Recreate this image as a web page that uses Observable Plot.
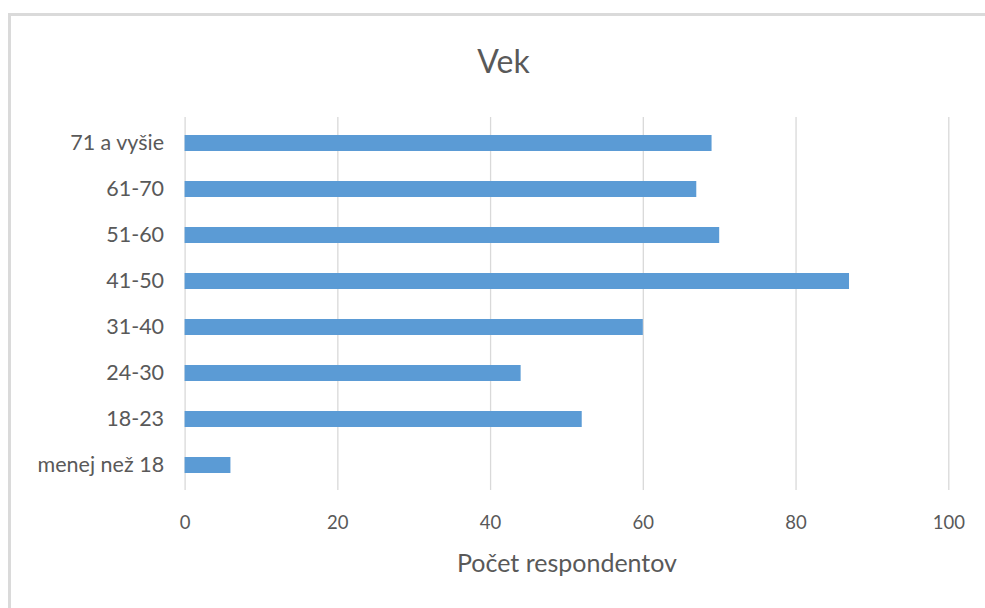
<!DOCTYPE html>
<html>
<head>
<meta charset="utf-8">
<script src="https://cdn.jsdelivr.net/npm/d3@7"></script>
<script src="https://cdn.jsdelivr.net/npm/@observablehq/plot@0.6"></script>
<style>
  html, body { margin: 0; padding: 0; background: #fff; }
  body { position: relative; width: 985px; height: 608px; overflow: hidden; font-family: Lato, "Open Sans", sans-serif; }
  #frame { position: absolute; left: 8px; top: 13px; width: 1100px; height: 700px;
           border-left: 3px solid #dadada; border-top: 3px solid #dadada; }
  #title { position: absolute; left: 0; top: 45px; width: 1007px; text-align: center;
           font-size: 32px; color: #595959; line-height: 1; }
  #chart { position: absolute; left: 0; top: 100px; }
</style>
</head>
<body>
<div id="frame"></div>
<div id="title"></div>
<div id="chart"></div>
<script>
// Age groups of respondents, top to bottom as listed on the chart
const titleText = "Vek";
const xLabel = "Počet respondentov";
const categories = ["71 a vyšie", "61-70", "51-60", "41-50", "31-40", "24-30", "18-23", "menej než 18"];
const counts = [69, 67, 70, 87, 60, 44, 52, 6];
const xTicks = [0, 20, 40, 60, 80, 100];

const rows = categories.map((c, i) => ({group: c, count: counts[i]}));

document.getElementById("title").textContent = titleText;

const textColor = "#595959";
const chart = Plot.plot({
  width: 985,
  height: 508,
  marginTop: 17,
  marginBottom: 118,
  marginLeft: 184.6,
  marginRight: 36.7,
  style: {fontFamily: "Lato, 'Open Sans', sans-serif", color: textColor, background: "transparent"},
  x: {domain: [0, 100]},
  y: {domain: categories, paddingInner: 0.66, paddingOuter: 0.33},
  marks: [
    Plot.ruleX(xTicks, {stroke: "#d9d9d9", strokeWidth: 1.3}),
    Plot.barX(rows, {x: "count", y: "group", fill: "#5b9bd5"}),
    Plot.axisY({tickSize: 0, tickPadding: 21, fontSize: 21.5, fill: textColor, label: null}),
    Plot.axisX({ticks: xTicks, tickSize: 0, tickPadding: 25, fontSize: 18.5, fill: textColor, label: null}),
    Plot.text([xLabel], {text: d => d, frameAnchor: "bottom", lineAnchor: "middle", dy: 73.5, fontSize: 25, fill: textColor})
  ]
});
document.getElementById("chart").appendChild(chart);
</script>
</body>
</html>
